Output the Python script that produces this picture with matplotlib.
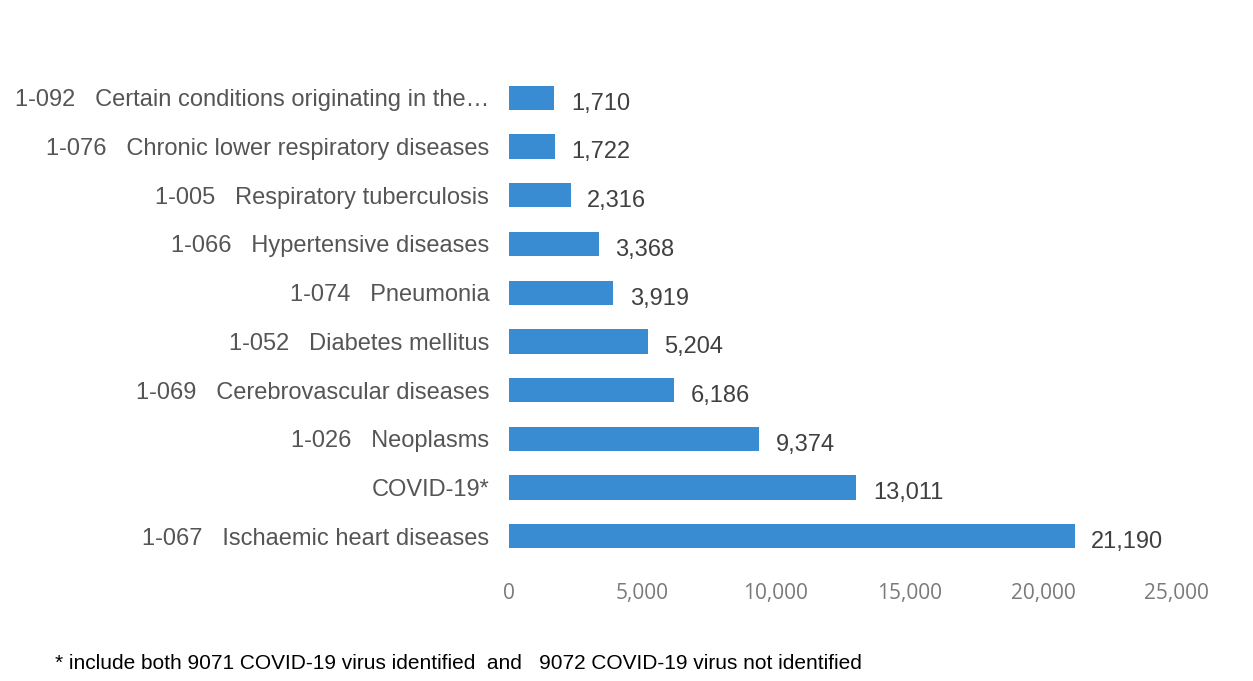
import matplotlib.pyplot as plt

causes = [
    "1-067   Ischaemic heart diseases",
    "COVID-19*",
    "1-026   Neoplasms",
    "1-069   Cerebrovascular diseases",
    "1-052   Diabetes mellitus",
    "1-074   Pneumonia",
    "1-066   Hypertensive diseases",
    "1-005   Respiratory tuberculosis",
    "1-076   Chronic lower respiratory diseases",
    "1-092   Certain conditions originating in the\u2026",
]
deaths = [21190, 13011, 9374, 6186, 5204, 3919, 3368, 2316, 1722, 1710]
xticks = [0, 5000, 10000, 15000, 20000, 25000]

fig = plt.figure(figsize=(12.53, 6.81), dpi=100)
ax = fig.add_axes([0.406, 0.170, 0.533, 0.729])

ypos = list(range(len(causes)))
ax.barh(ypos, deaths, height=0.5, color="#3A8CD2")

# value labels just right of each bar
for y, v in zip(ypos, deaths):
    ax.text(v + 620, y - 0.12, f"{v:,}", va="center", ha="left",
            fontsize=17, color="#404040", family=["Liberation Sans", "DejaVu Sans"])

ax.set_xlim(0, 25000)
ax.set_ylim(-0.6, len(causes) - 0.4)
ax.set_yticks(ypos)
ax.set_yticklabels(causes, fontsize=17, color="#555555",
                   family=["Liberation Sans", "DejaVu Sans"])
ax.set_xticks(xticks)
ax.set_xticklabels([f"{t:,}" for t in xticks], fontsize=15, color="#7a7a7a",
                   family=["Open Sans", "DejaVu Sans"])
ax.tick_params(axis="both", length=0)
ax.tick_params(axis="y", pad=14)
ax.tick_params(axis="x", pad=13)
for s in ax.spines.values():
    s.set_visible(False)

fig.text(0.044, 0.018, "* include both 9071 COVID-19 virus identified  and   9072 COVID-19 virus not identified",
         fontsize=15, color="black", family=["Liberation Sans", "DejaVu Sans"])

fig.savefig("out.png", dpi=100)
